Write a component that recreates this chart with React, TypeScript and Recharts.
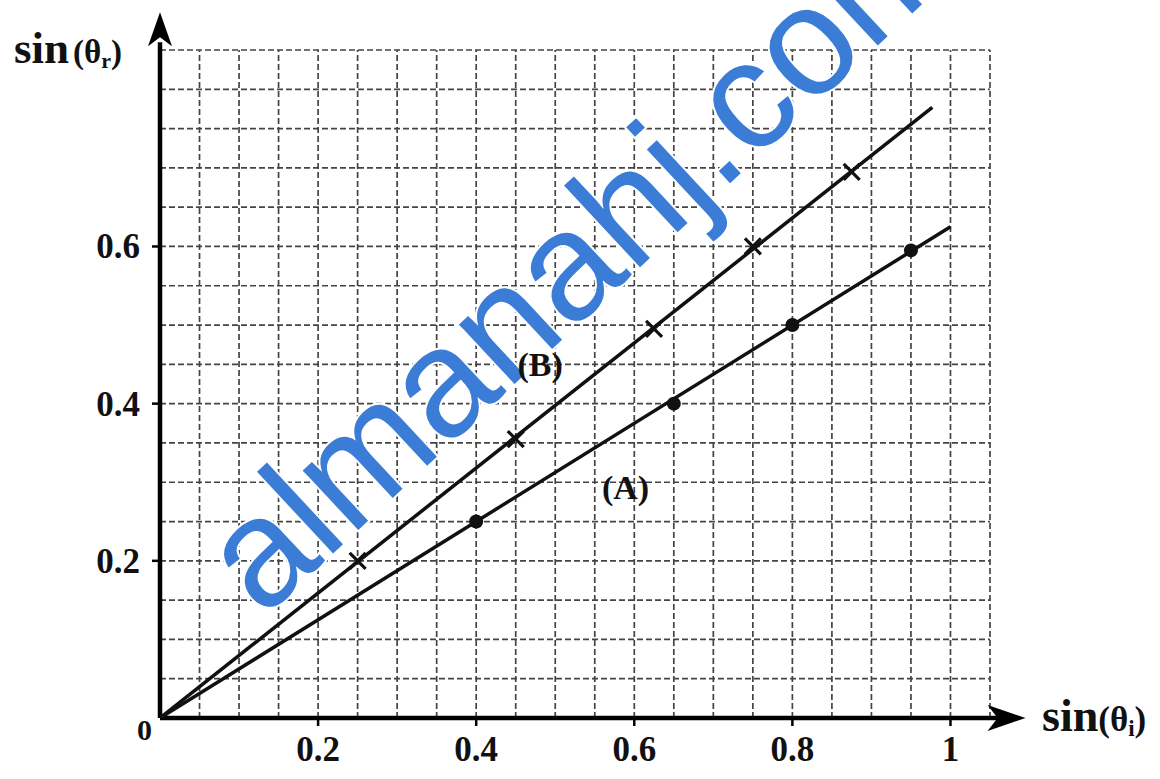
import React from 'react';
import {
  ComposedChart,
  Line,
  ReferenceDot,
  ReferenceLine,
  Scatter,
  XAxis,
  YAxis
} from 'recharts';

// measured points, series B (crosses)
const bSinI = [0.25, 0.45, 0.625, 0.75, 0.875];
const bSinR = [0.2, 0.355, 0.495, 0.6, 0.695];

// measured points, series A (dots)
const aSinI = [0.4, 0.65, 0.8, 0.95];
const aSinR = [0.25, 0.4, 0.5, 0.595];

// best-fit lines (drawn from the origin)
const fitBX = [0, 0.977];
const fitBY = [0, 0.777];
const fitAX = [0, 1.0];
const fitAY = [0, 0.625];

const xTicks = [0.2, 0.4, 0.6, 0.8, 1];
const yTicks = [0.2, 0.4, 0.6];

// graph paper lines
const xGrid = [0.05, 0.1, 0.15, 0.2, 0.25, 0.3, 0.35, 0.4, 0.45, 0.5, 0.55, 0.6, 0.65, 0.7, 0.75, 0.8, 0.85, 0.9, 0.95, 1, 1.05];
const yGrid = [0.05, 0.1, 0.15, 0.2, 0.25, 0.3, 0.35, 0.4, 0.45, 0.5, 0.55, 0.6, 0.65, 0.7, 0.75, 0.8, 0.85];

const xAxisEnd = 1.095;
const yAxisEnd = 0.898;

const labelB = { x: 0.481, y: 0.45, text: '(B)' };
const labelA = { x: 0.589, y: 0.294, text: '(A)' };
const watermark = { x: 0.13, y: 0.126, text: 'almanahj.com' };

const toPoints = (xs: number[], ys: number[]) => xs.map((x, i) => ({ x, y: ys[i] }));

const pointsB = toPoints(bSinI, bSinR);
const pointsA = toPoints(aSinI, aSinR);
const lineB = toPoints(fitBX, fitBY);
const lineA = toPoints(fitAX, fitAY);

const SERIF = '"Liberation Serif", "Times New Roman", serif';

const XTick = (props: any) => {
  const { x, y, payload } = props;
  return (
    <text x={x} y={y + 33} textAnchor='middle' fontFamily={SERIF} fontWeight='bold' fontSize={35} fill='#111'>
      {payload.value}
    </text>
  );
};

const YTick = (props: any) => {
  const { x, y, payload } = props;
  return (
    <text x={x - 10} y={y + 12} textAnchor='end' fontFamily={SERIF} fontWeight='bold' fontSize={35} fill='#111'>
      {payload.value}
    </text>
  );
};

const Cross = (props: any) => {
  const { cx, cy } = props;
  const s = 8;
  return (
    <g stroke='#111' strokeWidth={3.2}>
      <line x1={cx - s} y1={cy - s} x2={cx + s} y2={cy + s} />
      <line x1={cx - s} y1={cy + s} x2={cx + s} y2={cy - s} />
    </g>
  );
};

const Dot = (props: any) => {
  const { cx, cy } = props;
  return <circle cx={cx} cy={cy} r={7} fill='#111' />;
};

const ArrowRight = (props: any) => {
  const { cx, cy } = props;
  return <path d={`M${cx},${cy} L${cx - 38},${cy - 13} L${cx - 28},${cy} L${cx - 38},${cy + 13} Z`} fill='#000' />;
};

const ArrowUp = (props: any) => {
  const { cx, cy } = props;
  return <path d={`M${cx},${cy} L${cx - 12},${cy + 34} L${cx},${cy + 25} L${cx + 12},${cy + 34} Z`} fill='#000' />;
};

const textShape = (text: string) => (props: any) => (
  <text x={props.cx} y={props.cy + 12} textAnchor='middle' fontFamily={SERIF} fontWeight='bold' fontSize={34} fill='#111'>
    {text}
  </text>
);

const OriginLabel = (props: any) => (
  <text x={props.cx - 8} y={props.cy + 22} textAnchor='end' fontFamily={SERIF} fontWeight='bold' fontSize={30} fill='#111'>
    0
  </text>
);

const Watermark = (props: any) => (
  <text
    x={props.cx}
    y={props.cy}
    transform={`rotate(-43 ${props.cx} ${props.cy})`}
    fontFamily='"Liberation Sans", Arial, sans-serif'
    fontSize={154}
    fill='#3b7dd6'
    stroke='#ffffff'
    strokeWidth={4}
    paintOrder='stroke'
  >
    {watermark.text}
  </text>
);

const YTitle = (props: any) => {
  const { viewBox } = props;
  const x = viewBox.x - 86;
  const y = viewBox.y + 13;
  return (
    <text x={x} y={y} fontFamily={SERIF} fontWeight='bold' fill='#111'>
      <tspan fontSize={45}>sin</tspan>
      <tspan fontSize={33} dx={4}>(θ</tspan>
      <tspan fontSize={22} dy={5}>r</tspan>
      <tspan fontSize={33} dy={-5}>)</tspan>
    </text>
  );
};

const XTitle = (props: any) => {
  const { viewBox } = props;
  const x = viewBox.x + viewBox.width + 52;
  const y = viewBox.y + 13;
  return (
    <text x={x} y={y} fontFamily={SERIF} fontWeight='bold' fill='#111'>
      <tspan fontSize={46}>sin</tspan>
      <tspan fontSize={35}>(θ</tspan>
      <tspan fontSize={23} dy={5}>i</tspan>
      <tspan fontSize={35} dy={-5}>)</tspan>
    </text>
  );
};

function App (): JSX.Element {
  return (
    <div style={{ position: 'absolute', left: 0, top: 0, background: '#fff' }}>
      <ComposedChart
        width={1160}
        height={779}
        margin={{ top: 50, right: 170, bottom: 11, left: 100 }}
      >
        <XAxis
          dataKey='x'
          type='number'
          domain={[0, 1.05]}
          ticks={xTicks}
          axisLine={false}
          tickLine={{ stroke: '#000', strokeWidth: 2.5 }}
          tickSize={8}
          height={50}
          tick={<XTick />}
          label={{ content: <XTitle /> }}
          allowDataOverflow
        />
        <YAxis
          dataKey='y'
          type='number'
          domain={[0, 0.85]}
          ticks={yTicks}
          axisLine={false}
          tickLine={{ stroke: '#000', strokeWidth: 2.5 }}
          tickSize={8}
          width={60}
          tick={<YTick />}
          label={{ content: <YTitle /> }}
          allowDataOverflow
        />

        {xGrid.map((v) => (
          <ReferenceLine key={'gx' + v} x={v} stroke='#444' strokeWidth={1.7} strokeDasharray='6 3' />
        ))}
        {yGrid.map((v) => (
          <ReferenceLine key={'gy' + v} y={v} stroke='#444' strokeWidth={1.7} strokeDasharray='6 3' />
        ))}

        <ReferenceDot x={watermark.x} y={watermark.y} r={0} ifOverflow='visible' shape={Watermark} />

        {/* axes with arrows */}
        <ReferenceLine
          segment={[{ x: 0, y: 0 }, { x: 1.06, y: 0 }]}
          stroke='#000'
          strokeWidth={4.5}
          ifOverflow='visible'
        />
        <ReferenceLine
          segment={[{ x: 0, y: 0 }, { x: 0, y: 0.86 }]}
          stroke='#000'
          strokeWidth={4.5}
          ifOverflow='visible'
        />
        <ReferenceDot x={xAxisEnd} y={0} r={0} ifOverflow='visible' shape={ArrowRight} />
        <ReferenceDot x={0} y={yAxisEnd} r={0} ifOverflow='visible' shape={ArrowUp} />
        <ReferenceDot x={0} y={0} r={0} ifOverflow='visible' shape={OriginLabel} />

        <Line data={lineB} dataKey='y' type='linear' stroke='#111' strokeWidth={3.5} dot={false} activeDot={false} isAnimationActive={false} />
        <Line data={lineA} dataKey='y' type='linear' stroke='#111' strokeWidth={3.5} dot={false} activeDot={false} isAnimationActive={false} />
        <Scatter data={pointsB} dataKey='y' shape={Cross} isAnimationActive={false} />
        <Scatter data={pointsA} dataKey='y' shape={Dot} isAnimationActive={false} />

        <ReferenceDot x={labelB.x} y={labelB.y} r={0} ifOverflow='visible' shape={textShape(labelB.text)} />
        <ReferenceDot x={labelA.x} y={labelA.y} r={0} ifOverflow='visible' shape={textShape(labelA.text)} />
      </ComposedChart>
    </div>
  );
}

export default App;
